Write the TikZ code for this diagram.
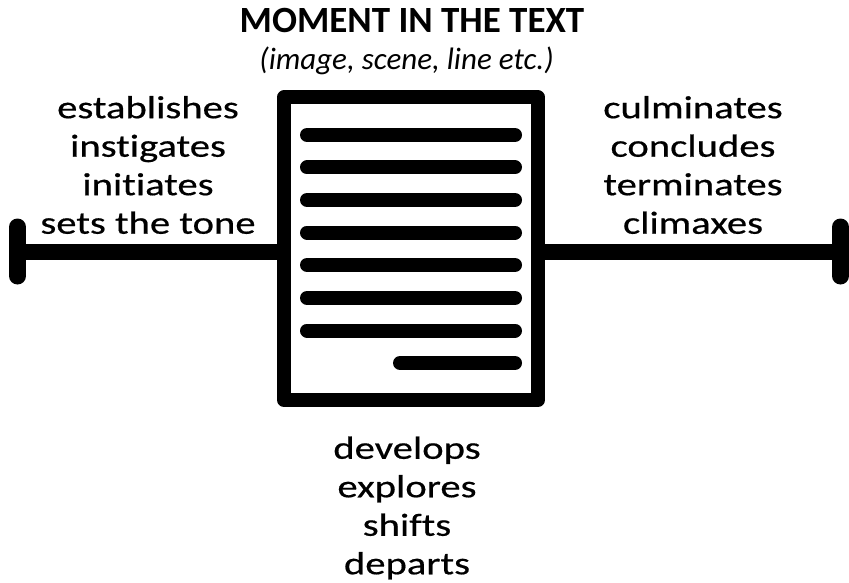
\documentclass[tikz,border=0pt]{standalone}
\usepackage{fontspec}
\setmainfont{Carlito}[Ligatures=NoCommon]
\newfontfamily\widefont{Carlito}[FakeStretch=1.27,FakeBold=0.5,Ligatures=NoCommon]
\usetikzlibrary{positioning}

\begin{document}
\begin{tikzpicture}[x=1pt,y=-1pt,line cap=round]
  \tikzstyle{words}=[inner sep=0pt,align=center,font=\widefont\fontsize{32pt}{38.5pt}\selectfont]
  \tikzstyle{page}=[draw=black,line width=14pt,line join=round,inner sep=0pt,minimum width=254pt,minimum height=302.5pt]
  \tikzstyle{axis}=[draw=black,line width=16pt,line cap=butt]
  \tikzstyle{endbar}=[draw=black,line width=17pt]
  \tikzstyle{textline}=[draw=black,line width=14pt]
  \useasboundingbox (0,0) rectangle (849,583);
  % the page in the middle
  \node[page] (doc) at (411,248.75) {};
  \foreach \y in {135,167.5,200,232.5,265,298,330.5}
    \draw[textline] (307,\y) -- (515,\y);
  \draw[textline] (400,363) -- (515,363);
  % timeline
  \coordinate (lend) at (17.5,251.5);
  \coordinate (rend) at (840.5,251.5);
  \draw[axis] (lend) -- (doc.west |- lend);
  \draw[axis] (doc.east |- rend) -- (rend);
  \draw[endbar] ([yshift=-24.5pt]lend) -- ([yshift=24.5pt]lend);
  \draw[endbar] ([yshift=-24.5pt]rend) -- ([yshift=24.5pt]rend);
  % labels
  \node[inner sep=0pt,font=\fontsize{37pt}{40pt}\selectfont\bfseries] (title) at (412,20.5) {MOMENT IN THE TEXT};
  \node[inner sep=0pt,font=\fontsize{31pt}{34pt}\selectfont\itshape] (sub) at (406.5,61) {(image, scene, line etc.)};
  \node[words] (start) at (148,165) {establishes\\instigates\\initiates\\sets the tone};
  \node[words] (finish) at (693,165) {culminates\\concludes\\terminates\\climaxes};
  \node[words] (middle) at (407,508) {develops\\explores\\shifts\\departs};
\end{tikzpicture}
\end{document}
